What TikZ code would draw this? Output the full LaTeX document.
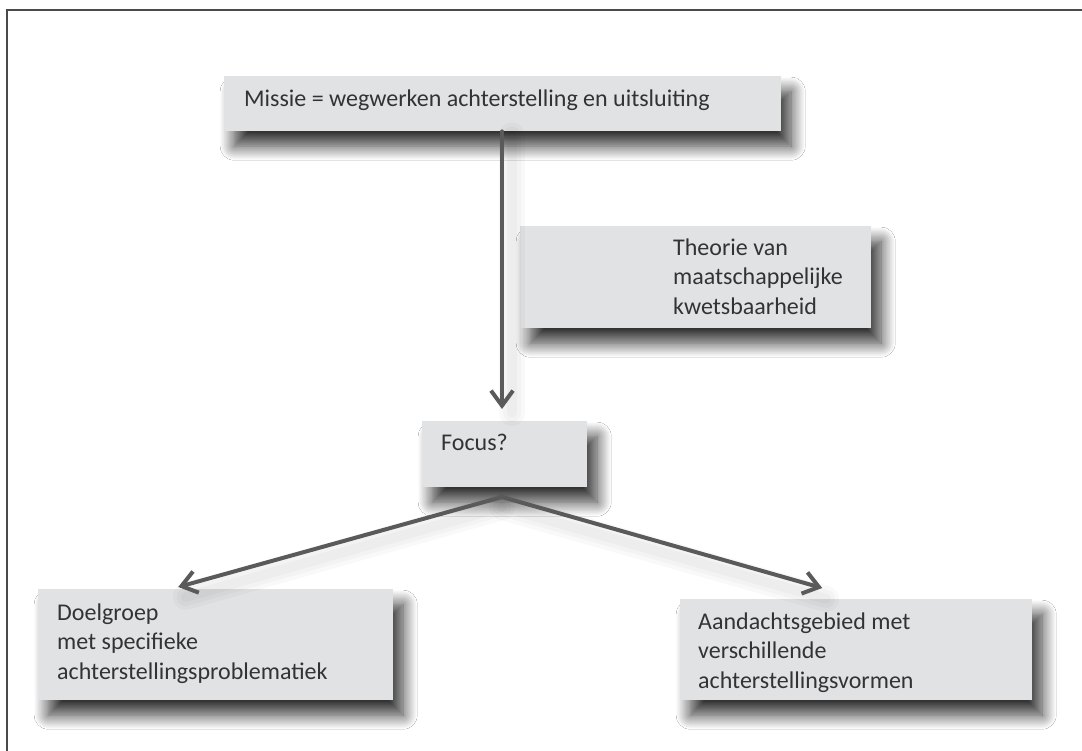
\documentclass[tikz,border=0pt]{standalone}
\usepackage{fontspec}
\setmainfont{Carlito}
\usetikzlibrary{arrows.meta,shadows.blur}
\definecolor{boxfill}{HTML}{E1E2E4}
\definecolor{txt}{HTML}{333333}
\definecolor{arrc}{HTML}{5A5A5A}
\definecolor{framec}{HTML}{4A4A4A}
\begin{document}
\begin{tikzpicture}[x=1pt,y=-1pt,
  box/.style={fill=boxfill, draw=none, anchor=north west, inner sep=0pt,
    blur shadow={shadow xshift=10pt, shadow yshift=-15pt, shadow blur radius=14pt,
      shadow blur steps=16, shadow opacity=80}},
  lbl/.style={anchor=north west, inner sep=0pt, align=left, text=txt,
    font=\fontsize{24}{29.5}\selectfont},
  arr/.style={draw=arrc, line width=4pt, line cap=round,
    -{Straight Barb[length=15pt,width=22pt]}},
  arrsh/.style={draw=black, line width=#1, opacity=0.025, line cap=round}]
\useasboundingbox (0,0) rectangle (1082,751);
\fill[white] (0,0) rectangle (1082,751);
% frame (left and top edges)
\draw[framec, line width=2pt] (7,751) -- (7,10) -- (1082,10);

% boxes
\node[box, minimum width=557pt, minimum height=55pt]  (missie)  at (224,76)  {};
\node[box, minimum width=351pt, minimum height=102pt] (theorie) at (520,226) {};
\node[box, minimum width=165pt, minimum height=66pt]  (focus)   at (422,421) {};
\node[box, minimum width=355pt, minimum height=111pt] (doel)    at (38,589)  {};
\node[box, minimum width=352pt, minimum height=101pt] (aand)    at (680,599) {};

% texts
\node[lbl] (missie-t)  at (244,87)  {\rule{0pt}{19pt}Missie = wegwerken achterstelling en uitsluiting};
\node[lbl] (theorie-t) at (673,236) {\rule{0pt}{19pt}Theorie van\\maatschappelijke\\kwetsbaarheid};
\node[lbl] (focus-t)   at (441,431) {\rule{0pt}{19pt}Focus?};
\node[lbl] (doel-t)    at (57,601)  {\rule{0pt}{19pt}Doelgroep\\met specifieke\\achterstellingsproblematiek};
\node[lbl] (aand-t)    at (698,610) {\rule{0pt}{19pt}Aandachtsgebied met\\verschillende\\achterstellingsvormen};

% connectors (with soft shadows)
\coordinate (apex) at (502,497);
\foreach \w in {26pt,18pt,10pt}{
  \draw[arrsh=\w] ([xshift=10pt,yshift=-4pt]missie.south -| apex) -- ([xshift=10pt,yshift=8pt]apex |- focus.north);
  \draw[arrsh=\w] ([yshift=-10pt]apex) -- ([xshift=-30pt,yshift=-8pt]doel.north);
  \draw[arrsh=\w] ([yshift=-10pt]apex) -- ([xshift=-30pt,yshift=0pt]aand.north);
}
\draw[arr, shorten >=-2pt] (missie.south -| apex) -- ([yshift=14pt]apex |- focus.north);
\draw[arr] (apex) -- ([xshift=-37.5pt,yshift=2pt]doel.north);
\draw[arr] (apex) -- ([xshift=-34pt,yshift=11pt]aand.north);
\end{tikzpicture}
\end{document}
